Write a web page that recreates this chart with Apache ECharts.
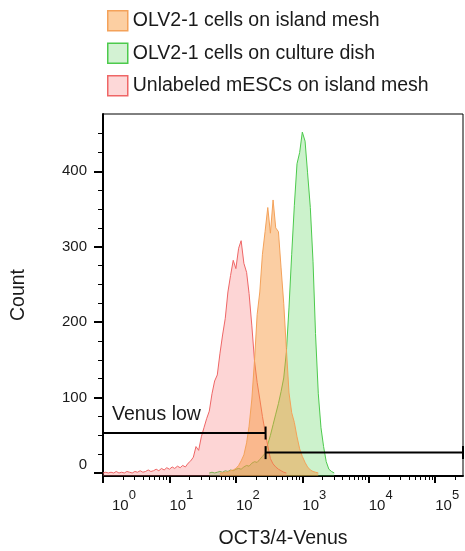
<!DOCTYPE html>
<html>
<head>
<meta charset="utf-8">
<script src="https://cdn.jsdelivr.net/npm/echarts@6/dist/echarts.min.js"></script>
<style>
  html, body { margin: 0; padding: 0; background: #fff; }
  #chart { width: 465px; height: 551px; }
</style>
</head>
<body>
<div id="chart"></div>
<script>
// ---- data ----
const xBins = [1, 1.1, 1.2, 1.32, 1.45, 1.58, 1.74, 1.91, 2.09, 2.29, 2.51, 2.75, 3.02, 3.31, 3.63, 3.98, 4.37, 4.79, 5.25, 5.75, 6.31, 6.92, 7.59, 8.32, 9.12,
  10, 11, 12, 13.2, 14.5, 15.8, 17.4, 19.1, 20.9, 22.9, 25.1, 27.5, 30.2, 33.1, 36.3, 39.8, 43.7, 47.9, 52.5, 57.5, 63.1, 69.2, 75.9, 83.2, 91.2,
  100, 110, 120, 132, 145, 158, 174, 191, 209, 229, 251, 275, 302, 331, 363, 398, 437, 479, 525, 575, 631, 692, 759, 832, 912,
  1000, 1100, 1200, 1320, 1450, 1580, 1740, 1910, 2090, 2290, 2510, 2750, 3020, 3310, 3630, 3980];

// null = bin outside the drawn histogram
const unlabeledIsland = [0,1,0,1,0,2,0,1,0,2,
  1,0,2,1,3,1,2,4,2,3,
  5,3,6,4,7,5,8,6,9,7,
  10,8,13,16,21,35,30,48,60,72,
  82,105,122,130,158,183,205,240,262,282,
  271,298,308,278,266,238,195,148,120,98,
  75,55,36,19,12,8,5,3,1,0,
  null,null,null,null,null,null,null,null,null,null,null,null,null,null,null,null,null,null,null,null,null];

const olvIsland = [null,null,null,null,null,null,null,null,null,null,
  null,null,null,null,null,null,null,null,null,null,
  null,null,null,null,null,null,null,null,null,null,
  null,null,null,null,null,null,null,null,null,null,
  null,null,null,null,0,0,1,1,3,4,
  6,10,16,24,40,62,98,150,210,240,
  290,320,352,318,362,325,320,272,225,165,
  106,80,67,48,32,22,14,8,4,2,
  1,0,null,null,null,null,null,null,null,null,null];

const olvDish = [null,null,null,null,null,null,null,null,null,null,
  null,null,null,null,null,null,null,null,null,null,
  null,null,null,null,null,null,null,null,null,null,
  null,null,null,null,null,null,null,null,null,null,
  0,1,0,1,2,1,3,2,4,3,
  5,6,5,8,10,9,13,15,14,18,
  22,26,38,50,64,78,92,108,126,160,
  220,290,355,410,425,452,440,398,352,280,
  185,105,60,35,15,5,2,0,null,null,null];

const seriesNames = ['OLV2-1 cells on island mesh', 'OLV2-1 cells on culture dish', 'Unlabeled mESCs on island mesh'];

// gates
const gateLowX = [1, 280];
const gateLowY = 53;
const gateHighX = [280, 262144];
const gateHighY = 27;
const gateLabel = 'Venus low';

// axis ticks
const xMajorTicks = [1, 10, 100, 1000, 10000, 100000];
const xMinorTicks = [2,3,4,5,6,7,8,9,20,30,40,50,60,70,80,90,200,300,400,500,600,700,800,900,
  2000,3000,4000,5000,6000,7000,8000,9000,20000,30000,40000,50000,60000,70000,80000,90000,200000];
const yMajorTicks = [0, 100, 200, 300, 400];
const yMinorTicks = [25, 50, 75, 125, 150, 175, 225, 250, 275, 325, 350, 375, 425, 450];

const xMin = 1, xMax = 262144;
const yMin = -4, yMax = 476;

// ---- styles ----
const colors = {
  orange: { line: '#f4a25a', fill: 'rgba(247,150,60,0.47)', legendFill: '#fccfa2' },
  green: { line: '#4cca4c', fill: 'rgba(95,215,95,0.32)', legendFill: '#d3f2d3' },
  red: { line: '#ef6666', fill: 'rgba(250,115,115,0.30)', legendFill: '#fdd8d8' }
};

function pairs(vals) { return xBins.map((x, i) => [x, vals[i]]); }

const font = 'Liberation Sans, Arial, sans-serif';
const txt = '#1a1a1a';

const chart = echarts.init(document.getElementById('chart'), null, { renderer: 'canvas' });

function histSeries(name, vals, c, z) {
  return {
    name: name, type: 'line', data: pairs(vals), xAxisIndex: 0, yAxisIndex: 0,
    showSymbol: false, symbol: 'none', smooth: false, z: z, connectNulls: false,
    lineStyle: { color: c.line, width: 1 },
    itemStyle: { color: c.line },
    areaStyle: { color: c.fill, origin: 'start', opacity: 1 },
    emphasis: { disabled: true }, animation: false
  };
}

const option = {
  animation: false,
  backgroundColor: '#fff',
  grid: { left: 103, right: 2, top: 114, bottom: 75, show: true, borderColor: '#000', borderWidth: 1,
          containLabel: false, outerBoundsMode: 'none' },
  legend: {
    orient: 'vertical', left: 107, top: 10, padding: 0, itemWidth: 20, itemHeight: 20, itemGap: 11,
    icon: 'rect', selectedMode: false,
    textStyle: { fontSize: 19.5, fontFamily: font, color: txt, lineHeight: 20 },
    data: [
      { name: seriesNames[0], itemStyle: { color: colors.orange.legendFill, borderColor: colors.orange.line, borderWidth: 1.5 } },
      { name: seriesNames[1], itemStyle: { color: colors.green.legendFill, borderColor: colors.green.line, borderWidth: 1.5 } },
      { name: seriesNames[2], itemStyle: { color: colors.red.legendFill, borderColor: colors.red.line, borderWidth: 1.5 } }
    ]
  },
  xAxis: [
    {
      type: 'log', logBase: 10, min: xMin, max: xMax, position: 'bottom',
      name: 'OCT3/4-Venus', nameLocation: 'middle', nameGap: 53,
      nameTextStyle: { fontSize: 19.5, fontFamily: font, color: txt },
      axisLine: { show: true, onZero: false, lineStyle: { color: '#000', width: 2 } },
      axisTick: { show: true, customValues: xMajorTicks, length: 7, lineStyle: { color: '#000', width: 2 } },
      splitLine: { show: false },
      axisLabel: {
        customValues: xMajorTicks, margin: 13, align: 'left', fontFamily: font, color: txt,
        formatter: function (v) {
          const e = Math.round(Math.log10(v));
          return (e === 0 ? '{b0|10}' : '{b|10}') + '{s|' + e + '}{h| }';
        },
        rich: {
          b: { fontSize: 15, fontFamily: font, color: txt, verticalAlign: 'bottom' },
          b0: { fontSize: 15, fontFamily: font, color: txt, verticalAlign: 'bottom', padding: [0, 0, 0, 9] },
          s: { fontSize: 13, fontFamily: font, color: txt, verticalAlign: 'top' },
          h: { fontSize: 1, lineHeight: 24 }
        }
      }
    },
    {
      type: 'log', logBase: 10, min: xMin, max: xMax, position: 'bottom',
      axisLine: { show: false, onZero: false },
      axisTick: { show: true, customValues: xMinorTicks, length: 4, lineStyle: { color: '#000', width: 1 } },
      axisLabel: { show: false }, splitLine: { show: false }
    }
  ],
  yAxis: [
    {
      type: 'value', min: yMin, max: yMax, position: 'left',
      name: 'Count', nameLocation: 'middle', nameGap: 74, nameRotate: 90,
      nameTextStyle: { fontSize: 19.5, fontFamily: font, color: txt },
      axisLine: { show: true, onZero: false, lineStyle: { color: '#000', width: 2 } },
      axisTick: { show: true, customValues: yMajorTicks, length: 9, lineStyle: { color: '#000', width: 2 } },
      splitLine: { show: false },
      axisLabel: {
        customValues: yMajorTicks, margin: 16, fontSize: 15, fontFamily: font, color: txt,
        formatter: function (v) { return v === 0 ? '{z|0}' : String(v); },
        rich: { z: { fontSize: 15, fontFamily: font, color: txt, padding: [0, 0, 16, 0] } }
      }
    },
    {
      type: 'value', min: yMin, max: yMax, position: 'left',
      axisLine: { show: false, onZero: false },
      axisTick: { show: true, customValues: yMinorTicks, length: 5, lineStyle: { color: '#000', width: 1 } },
      axisLabel: { show: false }, splitLine: { show: false }
    }
  ],
  series: [
    histSeries(seriesNames[1], olvDish, colors.green, 2),
    histSeries(seriesNames[2], unlabeledIsland, colors.red, 3),
    histSeries(seriesNames[0], olvIsland, colors.orange, 4),
    {
      name: 'gateLow', type: 'line', z: 10, animation: false,
      data: [
        { value: [gateLowX[0], gateLowY], symbol: 'none' },
        { value: [gateLowX[1], gateLowY], symbol: 'rect', symbolSize: [2, 13] }
      ],
      lineStyle: { color: '#000', width: 2 }, itemStyle: { color: '#000' },
      emphasis: { disabled: true },
      markPoint: {
        symbol: 'circle', symbolSize: 0, silent: true,
        data: [{ coord: [gateLowX[0], gateLowY], value: gateLabel }],
        label: {
          show: true, position: 'right', distance: 0, offset: [9, -18],
          formatter: gateLabel, fontSize: 19.5, fontFamily: font, color: txt
        }
      }
    },
    {
      name: 'gateHigh', type: 'line', z: 10, animation: false,
      data: [
        { value: [gateHighX[0], gateHighY], symbol: 'rect', symbolSize: [2, 13] },
        { value: [gateHighX[1], gateHighY], symbol: 'rect', symbolSize: [2, 13] }
      ],
      lineStyle: { color: '#000', width: 2 }, itemStyle: { color: '#000' },
      emphasis: { disabled: true }
    }
  ]
};

chart.setOption(option);
</script>
</body>
</html>
